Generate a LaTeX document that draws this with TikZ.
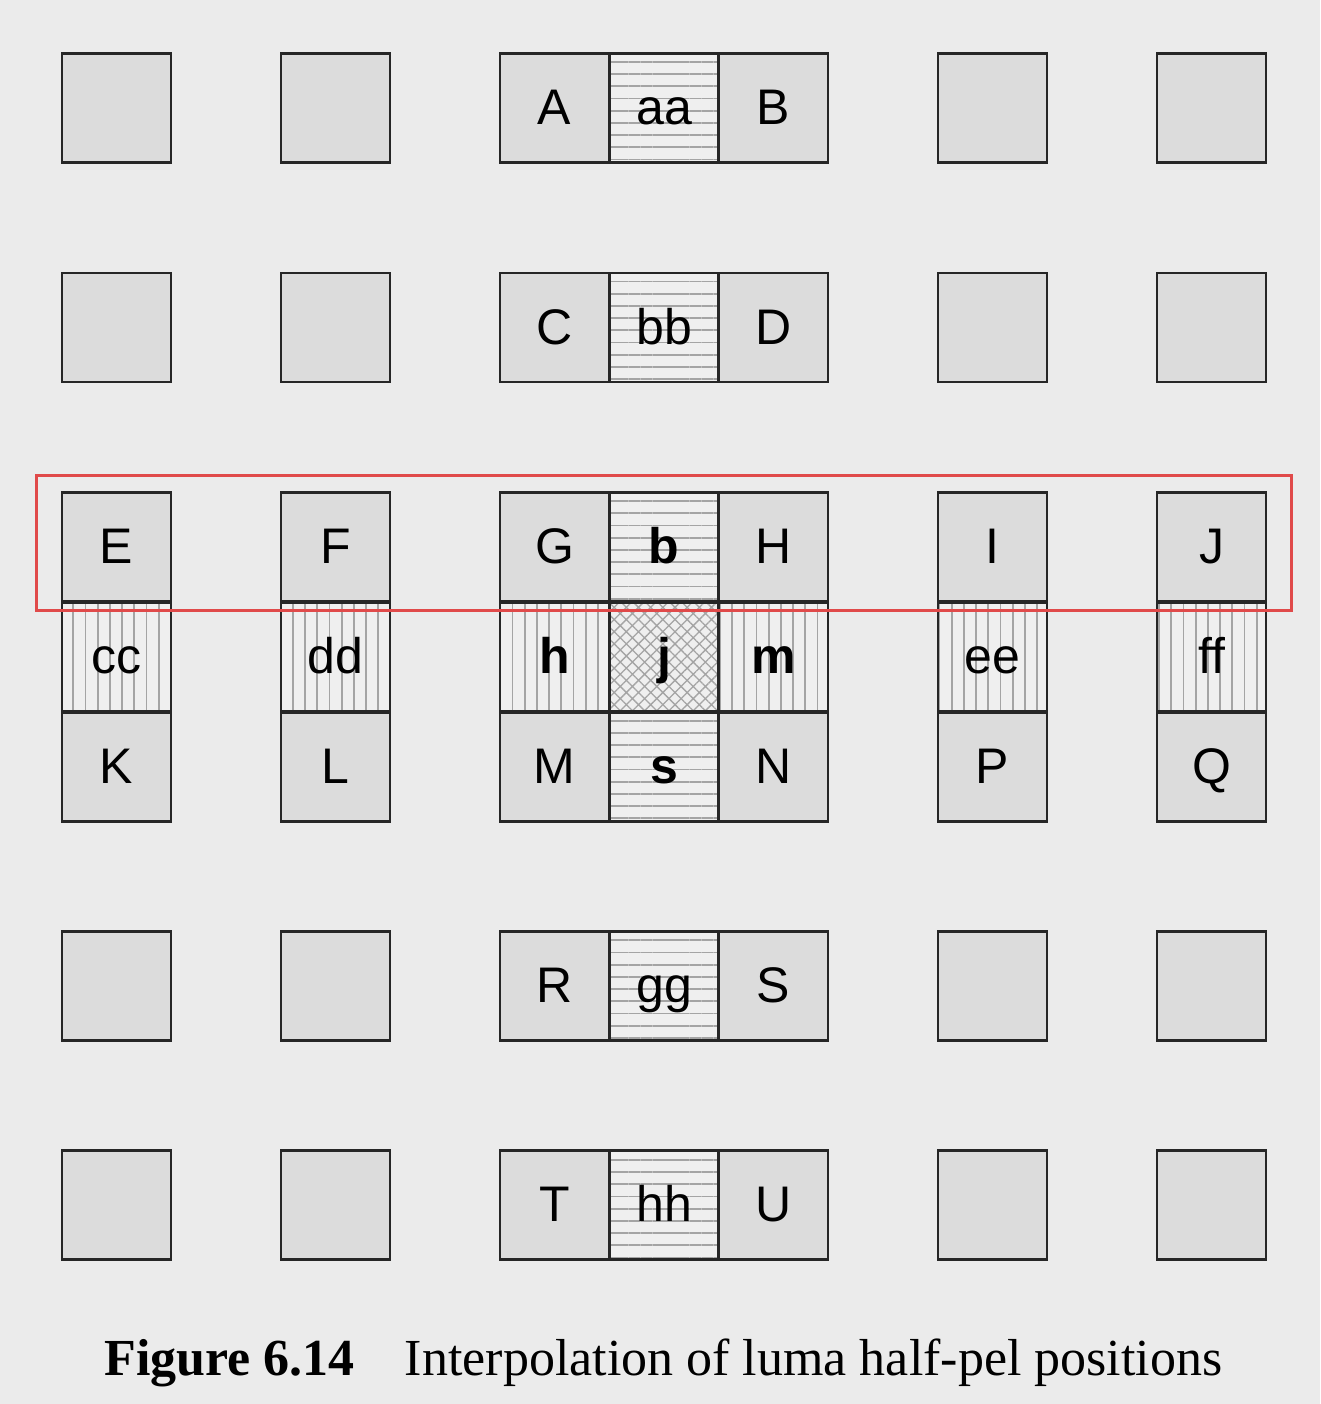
\documentclass[tikz,border=0pt]{standalone}
\usepackage{fontspec}
\setmainfont{Liberation Serif}
\setsansfont{Liberation Sans}
\usetikzlibrary{patterns.meta}
\definecolor{bggray}{HTML}{EBEBEB}
\definecolor{pelgray}{HTML}{DCDCDC}
\definecolor{halfgray}{HTML}{EFEFEF}
\definecolor{hatchgray}{HTML}{A4A4A4}
\definecolor{markred}{HTML}{E04A4A}
\tikzset{
  cellbase/.style = {draw=black!85, line width=2.4pt, minimum size=109pt,
                     inner sep=0pt, text height=33pt, text depth=0pt,
                     font=\sffamily\fontsize{50}{60}\selectfont},
  pel/.style      = {cellbase, fill=pelgray},
  hpel/.style     = {cellbase, preaction={fill=halfgray},
                     pattern={Lines[angle=0, distance=12.2pt, line width=1.8pt]},
                     pattern color=hatchgray},
  vpel/.style     = {cellbase, preaction={fill=halfgray},
                     pattern={Lines[angle=90, distance=12.2pt, line width=1.8pt]},
                     pattern color=hatchgray},
  cpel/.style     = {cellbase, preaction={fill=halfgray},
                     pattern={Hatch[angle=45, distance=8.6pt, line width=1.3pt]},
                     pattern color=hatchgray},
  key/.style      = {font=\sffamily\bfseries\fontsize{50}{60}\selectfont},
  markbox/.style  = {draw=markred, line width=3pt},
  caption/.style  = {font=\fontsize{52}{62}\selectfont, anchor=base, inner sep=0pt},
}

\begin{document}
\begin{tikzpicture}[x=1pt, y=-1pt]
\useasboundingbox[fill=bggray] (0,0) rectangle (1320,1404);

% integer samples in the outer columns
\foreach \r/\ry in {1/108, 2/327.5, 6/986, 7/1205}
  \foreach \c/\cx in {1/116.5, 2/335.5, 6/992.5, 7/1211.5}
    \node[pel] (p-\r-\c) at (\cx,\ry) {};

% centre columns, outer rows
\node[pel]  (A)  at (554.5,108)  {A};
\node[hpel] (aa) at (664,108)    {aa};
\node[pel]  (B)  at (773.5,108)  {B};
\node[pel]  (C)  at (554.5,327.5) {C};
\node[hpel] (bb) at (664,327.5)  {bb};
\node[pel]  (D)  at (773.5,327.5) {D};
\node[pel]  (R)  at (554.5,986)  {R};
\node[hpel] (gg) at (664,986)    {gg};
\node[pel]  (S)  at (773.5,986)  {S};
\node[pel]  (T)  at (554.5,1205) {T};
\node[hpel] (hh) at (664,1205)   {hh};
\node[pel]  (U)  at (773.5,1205) {U};

% row with E ... J
\node[pel]  (E) at (116.5,547)  {E};
\node[pel]  (F) at (335.5,547)  {F};
\node[pel]  (G) at (554.5,547)  {G};
\node[hpel, key] (b) at (664,547) {b};
\node[pel]  (H) at (773.5,547)  {H};
\node[pel]  (I) at (992.5,547)  {I};
\node[pel]  (J) at (1211.5,547) {J};

% vertical half-pel row
\node[vpel] (cc) at (116.5,657) {cc};
\node[vpel] (dd) at (335.5,657) {dd};
\node[vpel, key] (h) at (554.5,657) {h};
\node[cpel, key] (j) at (664,657)   {j};
\node[vpel, key] (m) at (773.5,657) {m};
\node[vpel] (ee) at (992.5,657) {ee};
\node[vpel] (ff) at (1211.5,657) {ff};

% row with K ... Q
\node[pel]  (K) at (116.5,767)  {K};
\node[pel]  (L) at (335.5,767)  {L};
\node[pel]  (M) at (554.5,767)  {M};
\node[hpel, key] (s) at (664,767) {s};
\node[pel]  (N) at (773.5,767)  {N};
\node[pel]  (P) at (992.5,767)  {P};
\node[pel]  (Q) at (1211.5,767) {Q};

% highlight round the E ... J row
\draw[markbox] ([shift={(-24pt,16pt)}]E.north west)
  rectangle ([shift={(24pt,-8pt)}]J.south east);

\node[caption] (cap) at (663.5,1375)
  {\textbf{Figure 6.14}\hspace{50pt}Interpolation of luma half-pel positions};
\end{tikzpicture}
\end{document}
